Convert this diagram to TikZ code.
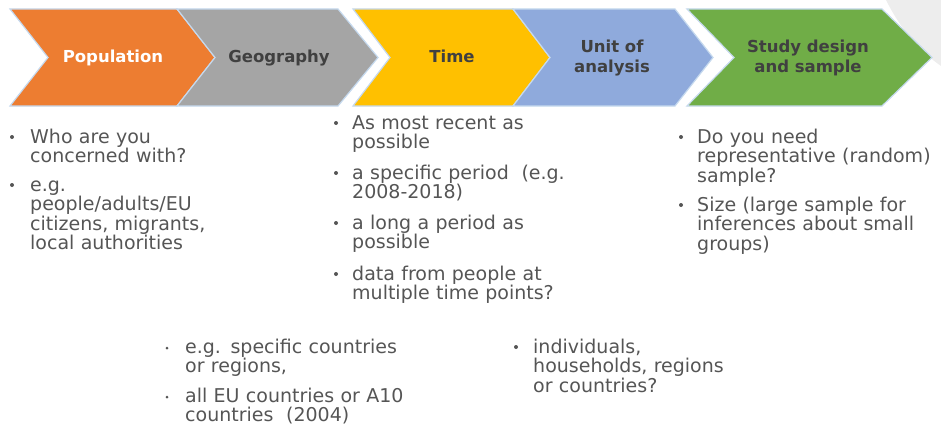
\documentclass[tikz,border=0pt]{standalone}
\usepackage{fontspec}
\setmainfont{DejaVu Sans}
\definecolor{corange}{HTML}{ED7D31}
\definecolor{cgray}{HTML}{A5A5A5}
\definecolor{cyellow}{HTML}{FFC000}
\definecolor{cblue}{HTML}{8FAADC}
\definecolor{cgreen}{HTML}{70AD47}
\definecolor{cedge}{HTML}{C5D9EE}
\definecolor{ctitle}{HTML}{404040}
\definecolor{ctext}{HTML}{555555}
\definecolor{cbg}{HTML}{EDEDED}
\begin{document}
\begin{tikzpicture}[x=1pt,y=-1pt,
  chev/.style={draw=cedge, line width=1.2pt, line join=miter},
  title/.style={font=\fontsize{16.5}{20}\selectfont\bfseries, text=ctitle, align=center, inner sep=0pt},
  item/.style={font=\fontsize{19}{19.5}\selectfont, text=ctext, align=left, text width=320pt, inner sep=0pt, anchor=base west},
  bul/.style={fill=ctext}]
\useasboundingbox (0,0) rectangle (941,428);
% background decoration
\fill[cbg] (886,0) .. controls (900,28) and (918,50) .. (941,66) -- (941,0) -- cycle;
% chevrons
\draw[chev, fill=corange] (10,9) -- (177,9) -- (215,57.5) -- (177,106) -- (10,106) -- (48,57.5) -- cycle;
\draw[chev, fill=cgray] (177,9) -- (338,9) -- (378,57.5) -- (338,106) -- (177,106) -- (215,57.5) -- cycle;
\draw[chev, fill=cyellow] (353,9) -- (513,9) -- (550,57.5) -- (513,106) -- (353,106) -- (390,57.5) -- cycle;
\draw[chev, fill=cblue] (513,9) -- (675,9) -- (713,57.5) -- (675,106) -- (513,106) -- (550,57.5) -- cycle;
\draw[chev, fill=cgreen] (687,9) -- (882,9) -- (932,57.5) -- (882,106) -- (687,106) -- (734,57.5) -- cycle;
% titles
\node[title, text=white, anchor=base] (tpop) at (113,63) {Population};
\node[title, anchor=base] (tgeo) at (279,63) {Geography};
\node[title, anchor=base] (ttime) at (452,63) {Time};
\node[title, anchor=center] (tunit) at (612,58.5) {Unit of\\analysis};
\node[title, anchor=center] (tstudy) at (808,58.3) {Study design\\and sample};
% Population list
\node[item] (p1) at (30,143) {Who are you\\concerned with?};
\node[item] (p2) at (30,191) {e.g.\\people/adults/EU\\citizens, migrants,\\local authorities};
\fill[bul] (12,137) circle (2pt);
\fill[bul] (12,185) circle (2pt);
% Time list
\node[item] (t1) at (352,129) {As most recent as\\possible};
\node[item] (t2) at (352,179) {a specific period~ (e.g.\\2008-2018)};
\node[item] (t3) at (352,229) {a long a period as\\possible};
\node[item] (t4) at (352,280) {data from people at\\multiple time points?};
\fill[bul] (336,123) circle (2pt);
\fill[bul] (336,173) circle (2pt);
\fill[bul] (336,223) circle (2pt);
\fill[bul] (336,274) circle (2pt);
% Study design list
\node[item] (s1) at (697,143) {Do you need\\representative (random)\\sample?};
\node[item] (s2) at (697,211) {Size (large sample for\\inferences about small\\groups)};
\fill[bul] (681,137) circle (2pt);
\fill[bul] (681,205) circle (2pt);
% Geography list
\node[item] (g1) at (185,353) {e.g. specific countries\\or regions,};
\node[item] (g2) at (185,402) {all EU countries or A10\\countries~ (2004)};
\fill[bul] (167,348) circle (1.5pt);
\fill[bul] (167,397) circle (1.5pt);
% Unit of analysis list
\node[item] (u1) at (533,353) {individuals,\\households, regions\\or countries?};
\fill[bul] (516,347) circle (2pt);
\end{tikzpicture}
\end{document}
